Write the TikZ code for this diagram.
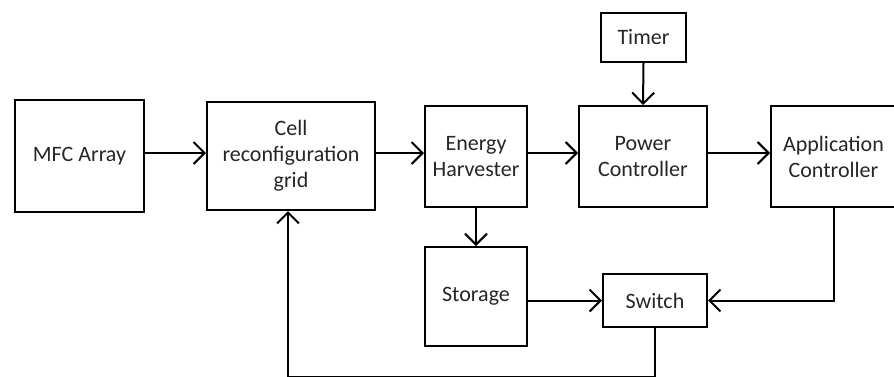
\documentclass[tikz,border=0pt]{standalone}
\usepackage{fontspec}
\setmainfont{Carlito}
\usetikzlibrary{arrows.meta}
\begin{document}
\begin{tikzpicture}[x=1pt,y=-1pt,
  blk/.style={draw=black, line width=2pt, inner sep=0pt, align=center,
    text=black!85, font=\fontsize{22}{26}\selectfont},
  arr/.style={line width=2pt, -{Straight Barb[length=11pt,width=22pt]}},
  ln/.style={line width=2pt}]
\useasboundingbox (0,0) rectangle (894,376);
\node[blk, minimum width=129pt, minimum height=112pt] (mfc) at (79.5,156) {MFC Array};
\node[blk, minimum width=168pt, minimum height=108pt] (cell) at (291,156) {Cell\\reconfiguration\\grid};
\node[blk, minimum width=102pt, minimum height=101pt] (eh) at (476,156.5) {Energy\\Harvester};
\node[blk, minimum width=128pt, minimum height=101pt] (pc) at (643,156.5) {Power\\Controller};
\node[blk, minimum width=125pt, minimum height=101pt] (app) at (833.5,156.5) {Application\\Controller};
\node[blk, minimum width=85pt, minimum height=49pt] (timer) at (643.5,37.5) {Timer};
\node[blk, minimum width=102pt, minimum height=99pt] (stor) at (476,296.5) {Storage};
\node[blk, minimum width=104pt, minimum height=53pt] (sw) at (655,300.5) {Switch};
\coordinate (hy) at (0,153);
\coordinate (bot) at (288,376.5);
\draw[arr] (mfc.east|-hy) -- (cell.west|-hy);
\draw[arr] (cell.east|-hy) -- (eh.west|-hy);
\draw[arr] (eh.east|-hy) -- (pc.west|-hy);
\draw[arr] (pc.east|-hy) -- (app.west|-hy);
\draw[arr] (timer.south) -- (pc.north);
\draw[arr] (eh.south) -- (stor.north);
\draw[arr] (stor.east|-sw.west) -- (sw.west);
\draw[arr] (app.south) |- (sw.east);
\draw[arr] (sw.south) |- (bot) -- (cell.south-|bot);
\end{tikzpicture}
\end{document}
